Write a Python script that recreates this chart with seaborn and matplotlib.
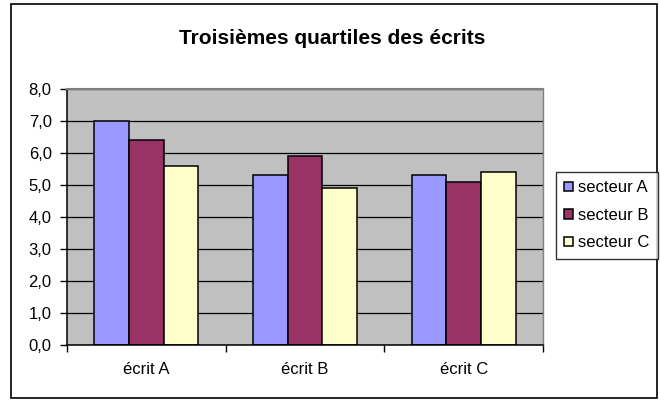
import matplotlib
matplotlib.use("Agg")
import matplotlib.pyplot as plt
import seaborn as sns
import pandas as pd
from matplotlib.patches import Patch, Rectangle
from matplotlib.ticker import FuncFormatter

# donnees
ecrits = ["écrit A", "écrit B", "écrit C"]
secteurs = ["secteur A", "secteur B", "secteur C"]
secteur_a = [7.0, 5.3, 5.3]
secteur_b = [6.4, 5.9, 5.1]
secteur_c = [5.6, 4.9, 5.4]
couleurs = ["#9999FF", "#993366", "#FFFFCC"]
graduations = [0, 1, 2, 3, 4, 5, 6, 7, 8]

df = pd.DataFrame({
    "ecrit": ecrits * 3,
    "secteur": [s for s in secteurs for _ in ecrits],
    "valeur": secteur_a + secteur_b + secteur_c,
})

plt.rcParams["font.family"] = ["Liberation Sans", "DejaVu Sans"]

fig = plt.figure(figsize=(6.6, 4), dpi=100)
ax = fig.add_axes([67/660, 1-345/400, (543-67)/660, (345-89)/400])

sns.barplot(data=df, x="ecrit", y="valeur", hue="secteur", palette=couleurs,
            width=0.655, edgecolor="black", linewidth=1.1, saturation=1,
            errorbar=None, legend=False, ax=ax)

ax.set_facecolor("#C0C0C0")
ax.set_xlim(-0.5, 2.5)
ax.set_ylim(0, 8)
ax.set_yticks(graduations)
ax.yaxis.set_major_formatter(FuncFormatter(lambda v, _: f"{v:.1f}".replace(".", ",")))
ax.yaxis.grid(True, color="black", linewidth=0.9)
ax.set_axisbelow(True)
ax.set_xlabel("")
ax.set_ylabel("")

ax.spines["top"].set_color("#808080")
ax.spines["top"].set_linewidth(1.5)
ax.spines["right"].set_color("#808080")
ax.spines["right"].set_linewidth(1.0)
ax.spines["left"].set_linewidth(1.1)
ax.spines["bottom"].set_linewidth(1.1)

ax.tick_params(axis="y", direction="out", length=5, width=1, labelsize=12, pad=6)
ax.set_xticks([0, 1, 2])
ax.set_xticklabels(ecrits)
ax.tick_params(axis="x", length=0, labelsize=12, pad=12)
ax.set_xticks([-0.5, 0.5, 1.5, 2.5], minor=True)
ax.tick_params(axis="x", which="minor", direction="out", length=5, width=1)

poignees = [Patch(facecolor=c, edgecolor="black", linewidth=1.1, label=s)
            for c, s in zip(couleurs, secteurs)]
leg = fig.legend(handles=poignees, loc="upper left",
                 bbox_to_anchor=(556/660, 1-172/400), borderaxespad=0,
                 fontsize=12, frameon=True, fancybox=False, edgecolor="black",
                 handlelength=0.5, handleheight=0.5, handletextpad=0.35,
                 labelspacing=0.75, borderpad=0.5)
leg.get_frame().set_linewidth(1.0)

fig.text(0.503, 1-38/400, "Troisièmes quartiles des écrits",
         ha="center", va="center", fontsize=15, fontweight="bold")

fig.patches.append(Rectangle((11/660, 2/400), 646/660, 394/400,
                             transform=fig.transFigure, fill=False,
                             edgecolor="black", linewidth=1.2))

fig.savefig("out.png", dpi=100)
